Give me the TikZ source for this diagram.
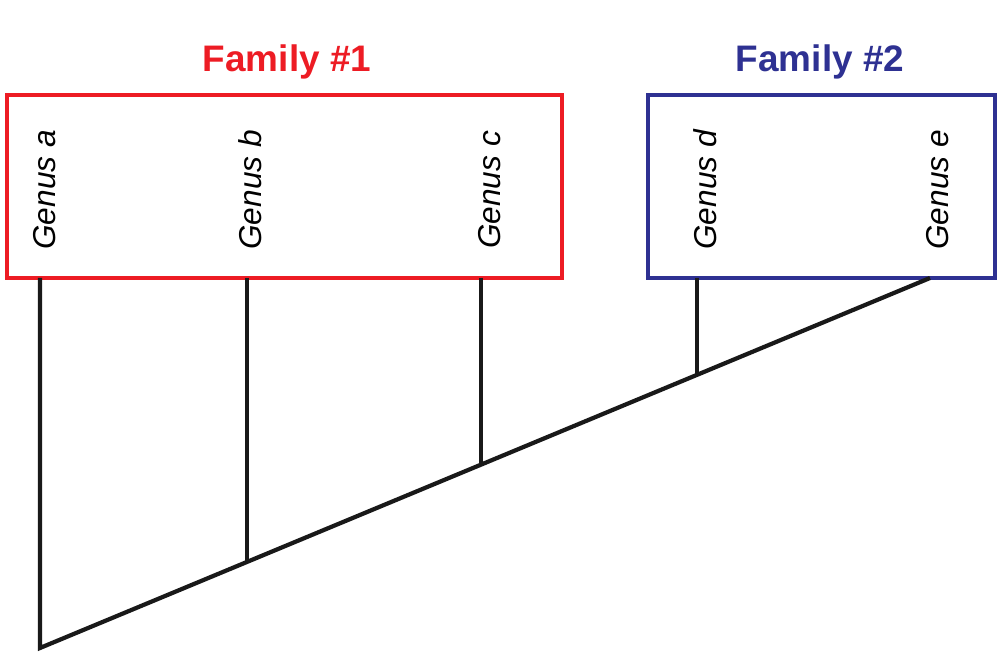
\documentclass[tikz,border=0pt]{standalone}
\usepackage{fontspec}
\setmainfont{Liberation Sans}
\usetikzlibrary{positioning}
\definecolor{famred}{RGB}{237,28,36}
\definecolor{famblue}{RGB}{46,49,146}
\tikzset{
  genus/.style={rotate=90,font=\fontsize{9}{10}\selectfont\itshape},
  family/.style={font=\fontsize{10.5}{12}\selectfont\bfseries},
  branch/.style={line width=1.2pt,black!90}
}
\begin{document}
\begin{tikzpicture}
            \useasboundingbox (0,0) rectangle (10,6.71);
            \draw[famred,line width=1.2pt] (0.07,3.93) rectangle (5.62,5.76);
            \draw[famblue,line width=1.2pt] (6.48,3.93) rectangle (9.95,5.76);
            \node[family,text=famred] (fam1) at (2.87,6.09) {Family \#1};
            \node[family,text=famblue] (fam2) at (8.20,6.09) {Family \#2};

            \node[genus] (ga) at (0.45,4.81) {Genus a};
            \node[genus] (gb) at (2.50,4.81) {Genus b};
            \node[genus] (gc) at (4.90,4.81) {Genus c};
            \node[genus] (gd) at (7.05,4.81) {Genus d};
            \node[genus] (ge) at (9.38,4.81) {Genus e};

            \coordinate (ta) at (0.40,3.93);
            \coordinate (tb) at (2.47,3.93);
            \coordinate (tc) at (4.81,3.93);
            \coordinate (td) at (6.97,3.93);
            \coordinate (te) at (9.30,3.93);
            \coordinate (root) at (0.40,0.23);
            \coordinate (nb) at (2.47,1.10);
            \coordinate (nc) at (4.81,2.07);
            \coordinate (nd) at (6.97,2.97);

            \draw[branch] (ta)--(root)--(te);
            \draw[branch] (tb)--(nb);
            \draw[branch] (tc)--(nc);
            \draw[branch] (td)--(nd);
\end{tikzpicture}
\end{document}
